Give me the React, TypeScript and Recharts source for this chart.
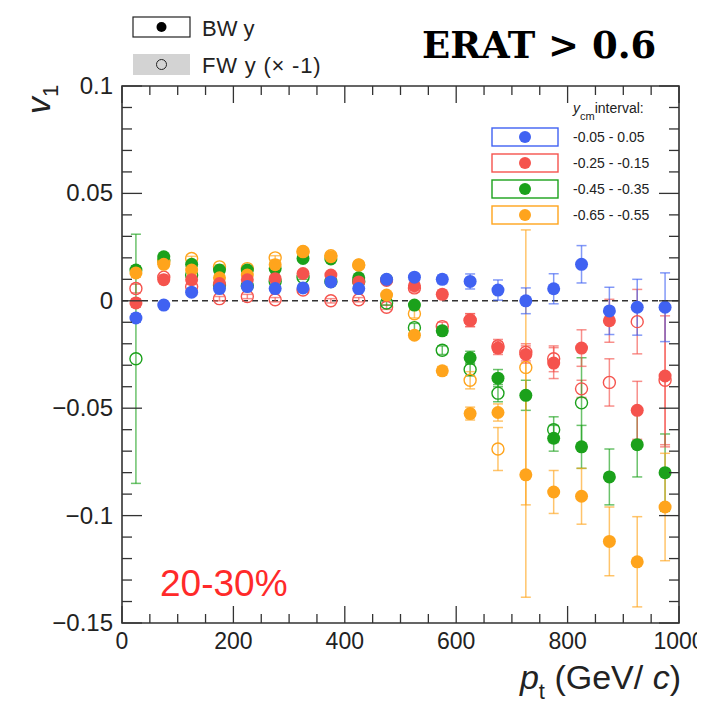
import { ComposedChart, Scatter, XAxis, YAxis, ErrorBar, ReferenceLine, ReferenceArea } from 'recharts';

// pt bin centres (GeV/c)
const ptBins = [25, 75, 125, 175, 225, 275, 325, 375, 425, 475, 525, 575, 625, 675, 725, 775, 825, 875, 925, 975];

// -0.05 - 0.05, backward y
const blueBW = [-0.008, -0.002, 0.004, 0.0057, 0.0066, 0.0057, 0.006, 0.0088, 0.0057, 0.01, 0.011, 0.01, 0.009, 0.005, 0.0, 0.0056, 0.017, -0.0047, -0.003, -0.003];
const blueBWErr = [0.002, 0.001, 0.001, 0.001, 0.001, 0.001, 0.001, 0.001, 0.001, 0.001, 0.0015, 0.002, 0.0035, 0.0047, 0.006, 0.007, 0.0087, 0.011, 0.013, 0.016];

// -0.25 - -0.15
const redBW = [-0.001, 0.0098, 0.0098, 0.008, 0.0098, 0.0103, 0.0127, 0.012, 0.0088, 0.0095, 0.007, 0.003, -0.009, -0.022, -0.025, -0.029, -0.022, -0.0093, -0.051, -0.035];
const redBWErr = [0.002, 0.001, 0.001, 0.001, 0.001, 0.001, 0.001, 0.001, 0.001, 0.001, 0.0015, 0.002, 0.003, 0.003, 0.004, 0.0072, 0.0085, 0.01, 0.0135, 0.033];
const redFW = [0.0057, 0.011, 0.0066, 0.001, 0.002, 0.0005, 0.005, 0.0, 0.0005, -0.003, 0.006, -0.012, -0.009, -0.021, -0.024, -0.027, -0.041, -0.038, -0.0097, -0.037];
const redFWErr = [0.002, 0.001, 0.001, 0.001, 0.001, 0.001, 0.001, 0.001, 0.001, 0.001, 0.002, 0.002, 0.003, 0.003, 0.004, 0.006, 0.004, 0.011, 0.015, 0.03];

// -0.45 - -0.35
const greenBW = [0.0143, 0.0205, 0.017, 0.0143, 0.0143, 0.015, 0.0197, 0.0195, 0.0107, 0.0098, -0.002, -0.014, -0.0265, -0.036, -0.044, -0.064, -0.068, -0.082, -0.067, -0.08];
const greenBWErr = [0.002, 0.001, 0.001, 0.001, 0.001, 0.001, 0.001, 0.001, 0.001, 0.001, 0.0015, 0.002, 0.003, 0.004, 0.007, 0.006, 0.01, 0.013, 0.015, 0.018];
const greenFW = [-0.027, 0.019, 0.012, 0.0074, 0.007, 0.009, 0.011, 0.009, 0.009, -0.001, -0.0125, -0.023, -0.032, -0.043, null, -0.06, -0.0475, null, null, null];
const greenFWErr = [0.058, 0.001, 0.001, 0.001, 0.001, 0.001, 0.001, 0.001, 0.001, 0.001, 0.002, 0.002, 0.003, 0.004, 0, 0.006, 0.021, 0, 0, 0];

// -0.65 - -0.55
const orangeBW = [0.013, 0.017, 0.0143, 0.0107, 0.012, 0.0168, 0.0228, 0.0205, 0.0167, 0.0027, -0.016, -0.0326, -0.0525, -0.052, -0.081, -0.089, -0.091, -0.112, -0.1215, -0.096];
const orangeBWErr = [0.002, 0.001, 0.001, 0.001, 0.001, 0.001, 0.001, 0.001, 0.001, 0.001, 0.0015, 0.002, 0.003, 0.004, 0.057, 0.01, 0.013, 0.016, 0.021, 0.025];
const orangeFW = [null, 0.018, 0.0197, 0.0158, 0.015, 0.02, 0.023, 0.021, 0.0167, null, -0.006, null, -0.037, -0.069, -0.031, null, null, null, null, null];
const orangeFWErr = [0, 0.001, 0.001, 0.001, 0.001, 0.001, 0.001, 0.001, 0.001, 0, 0.002, 0, 0.004, 0.01, 0.064, 0, 0, 0, 0, 0];

const xTicks = [0, 50, 100, 150, 200, 250, 300, 350, 400, 450, 500, 550, 600, 650, 700, 750, 800, 850, 900, 950, 1000];
const xMajorTicks = [0, 200, 400, 600, 800, 1000];
const xMajorLabels = ['0', '200', '400', '600', '800', '1000'];
const yMajorTicks = [-0.15, -0.1, -0.05, 0, 0.05, 0.1];
const yMajorLabels = ['\u22120.15', '\u22120.1', '\u22120.05', '0', '0.05', '0.1'];
const yTicks = Array.from({ length: 26 }, (_, i) => Math.round((-0.15 + i * 0.01) * 100) / 100);

const intervals = ['-0.05 - 0.05', '-0.25 - -0.15', '-0.45 - -0.35', '-0.65 - -0.55'];

const BLUE = '#4062f2';
const RED = '#f5534d';
const GREEN = '#1ba11b';
const ORANGE = '#ffa41c';
const AXIS = '#333';
const FONT = '"Liberation Sans", Arial, sans-serif';

const W = 697;
const H = 704;
const PLOT = { left: 114, right: 671, top: 78, bottom: 615 };

const rows = (vals: (number | null)[], errs: number[]) =>
  ptBins
    .map((pt, i) => ({ pt, v: vals[i], err: errs[i] }))
    .filter((r) => r.v !== null);

const dot = (color: string) => (p: any) => <circle cx={p.cx} cy={p.cy} r={6.5} fill={color} />;
const ring = (color: string) => (p: any) => (
  <circle cx={p.cx} cy={p.cy} r={6} fill="none" stroke={color} strokeWidth={1.4} />
);

const XTick = (props: any) => {
  const { x, payload } = props;
  const idx = xMajorTicks.indexOf(payload.value);
  const len = idx >= 0 ? 17 : 9;
  return (
    <g>
      <line x1={x} x2={x} y1={PLOT.bottom} y2={PLOT.bottom - len} stroke={AXIS} strokeWidth={1.3} />
      <line x1={x} x2={x} y1={PLOT.top} y2={PLOT.top + len} stroke={AXIS} strokeWidth={1.3} />
      {idx >= 0 && (
        <text x={x} y={PLOT.bottom + 26} textAnchor="middle" fontSize={23} fontFamily={FONT} fill="#222">
          {xMajorLabels[idx]}
        </text>
      )}
    </g>
  );
};

const YTick = (props: any) => {
  const { y, payload } = props;
  const idx = yMajorTicks.findIndex((t) => Math.abs(t - payload.value) < 1e-6);
  const len = idx >= 0 ? 20 : 10;
  return (
    <g>
      <line x1={PLOT.left} x2={PLOT.left + len} y1={y} y2={y} stroke={AXIS} strokeWidth={1.3} />
      <line x1={PLOT.right} x2={PLOT.right - len} y1={y} y2={y} stroke={AXIS} strokeWidth={1.3} />
      {idx >= 0 && (
        <text x={PLOT.left - 9} y={y + 8} textAnchor="end" fontSize={24} fontFamily={FONT} fill="#222">
          {yMajorLabels[idx]}
        </text>
      )}
    </g>
  );
};

const series = [
  { key: 'redFW', data: rows(redFW, redFWErr), color: RED, open: true },
  { key: 'greenFW', data: rows(greenFW, greenFWErr), color: GREEN, open: true },
  { key: 'orangeFW', data: rows(orangeFW, orangeFWErr), color: ORANGE, open: true },
  { key: 'greenBW', data: rows(greenBW, greenBWErr), color: GREEN, open: false },
  { key: 'orangeBW', data: rows(orangeBW, orangeBWErr), color: ORANGE, open: false },
  { key: 'redBW', data: rows(redBW, redBWErr), color: RED, open: false },
  { key: 'blueBW', data: rows(blueBW, blueBWErr), color: BLUE, open: false }
];

const legendColors = [BLUE, RED, GREEN, ORANGE];

export default function App() {
  return (
    <div style={{ position: 'relative', width: W, height: H }}>
      <ComposedChart width={W} height={H} margin={{ top: 78, right: W - PLOT.right, left: 54, bottom: 59 }}>
        <XAxis
          dataKey="pt"
          type="number"
          domain={[0, 1000]}
          ticks={xTicks}
          interval={0}
          axisLine={false}
          tickLine={false}
          height={30}
          tick={(p: any) => <XTick {...p} />}
          allowDataOverflow
        />
        <YAxis
          dataKey="v"
          type="number"
          domain={[-0.15, 0.1]}
          ticks={yTicks}
          interval={0}
          axisLine={false}
          tickLine={false}
          width={60}
          tick={(p: any) => <YTick {...p} />}
          allowDataOverflow
        />
        <ReferenceArea x1={0} x2={1000} y1={-0.15} y2={0.1} fill="none" fillOpacity={0} stroke={AXIS} strokeWidth={1.6} />
        <ReferenceLine y={0} stroke="#333" strokeDasharray="6 4" strokeWidth={1.5} />
        {series.map((s) => (
          <Scatter
            key={s.key}
            data={s.data}
            dataKey="v"
            isAnimationActive={false}
            shape={s.open ? ring(s.color) : dot(s.color)}
          >
            <ErrorBar dataKey="err" direction="y" width={5} stroke={s.color} strokeOpacity={0.65} strokeWidth={1.5} />
          </Scatter>
        ))}
      </ComposedChart>
      <svg width={W} height={H} style={{ position: 'absolute', left: 0, top: 0, pointerEvents: 'none' }}>
        {/* BW / FW legend */}
        <rect x={125} y={9} width={57} height={20} fill="#fff" stroke="#222" strokeWidth={1.2} />
        <circle cx={153.5} cy={19} r={5} fill="#000" />
        <text x={194} y={28} fontSize={22} fontFamily={FONT} fill="#222">BW y</text>
        <rect x={125} y={46} width={57} height={21} fill="#d3d3d3" />
        <circle cx={153.5} cy={56.5} r={5} fill="none" stroke="#222" strokeWidth={1} />
        <text x={194} y={65} fontSize={22} fontFamily={FONT} fill="#222" letterSpacing={0.8}>FW y (× -1)</text>

        <text x={414} y={50} fontSize={37} fontWeight="bold" fontFamily='"DejaVu Serif", serif' fill="#000">
          ERAT &gt; 0.6
        </text>

        {/* y_cm legend */}
        <text x={565} y={105} fontSize={14} fontFamily={FONT} fill="#222">
          <tspan fontStyle="italic">y</tspan>
          <tspan fontSize={11} dy={7}>cm</tspan>
          <tspan dy={-7}>interval:</tspan>
        </text>
        {intervals.map((label, i) => (
          <g key={label}>
            <rect x={484} y={120 + i * 26} width={66} height={18} fill="#fff" stroke={legendColors[i]} strokeWidth={1.4} />
            <circle cx={517} cy={129 + i * 26} r={6} fill={legendColors[i]} />
            <text x={565} y={134 + i * 26} fontSize={14} fontFamily={FONT} fill="#222">
              {label}
            </text>
          </g>
        ))}

        <text x={152} y={588} fontSize={37} fontFamily={FONT} fill="#ff2a2a">20-30%</text>

        {/* axis titles */}
        <text x={673} y={681} textAnchor="end" fontSize={34} fontFamily={FONT} fill="#222">
          <tspan fontStyle="italic">p</tspan>
          <tspan fontSize={22} dy={10}>t</tspan>
          <tspan dy={-10}> (GeV/ </tspan>
          <tspan fontStyle="italic">c</tspan>
          <tspan>)</tspan>
        </text>
        <text transform="translate(42,106) rotate(-90)" fontSize={34} fontFamily={FONT} fill="#222">
          <tspan fontStyle="italic">v</tspan>
          <tspan fontSize={22} dy={8}>1</tspan>
        </text>
      </svg>
    </div>
  );
}
